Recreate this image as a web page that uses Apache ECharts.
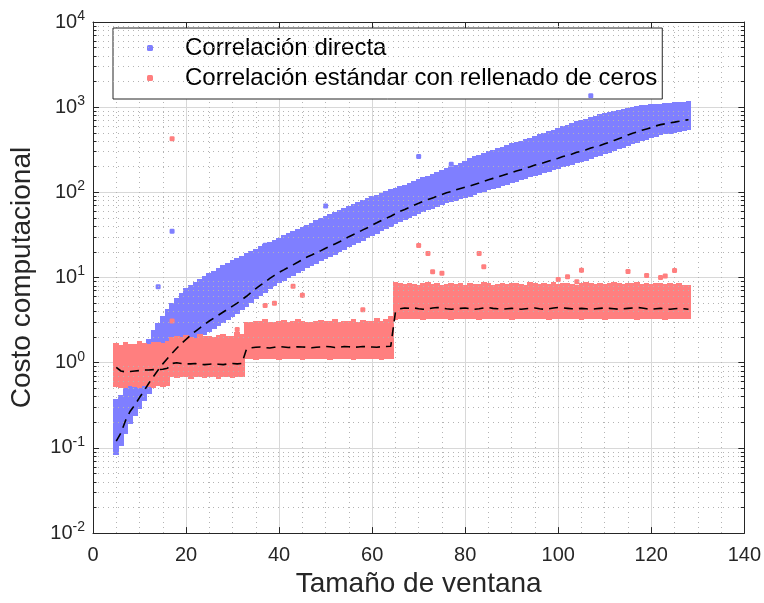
<!DOCTYPE html>
<html><head><meta charset="utf-8">
<script src="https://cdn.jsdelivr.net/npm/echarts@6/dist/echarts.min.js"></script>
<style>html,body{margin:0;padding:0;background:#fff}#c{width:764px;height:603px}</style>
</head><body><div id="c"></div>
<script>
// ---------- data ----------
const windowStart = 5, windowEnd = 128;   // window sizes 5..128
const seriesNames = ['Correlación directa', 'Correlación estándar con rellenado de ceros'];
const xTicks = [0, 20, 40, 60, 80, 100, 120, 140];
const yTickExponents = [-2, -1, 0, 1, 2, 3, 4];

const blueMedian = [0.12,0.15,0.21,0.27,0.32,0.39,0.47,0.575,0.69,0.82,0.97,1.12,1.29,1.48,1.68,1.88,2.11,2.34,2.57,2.82,3.09,3.35,3.63,3.94,4.27,4.62,5.0,5.5,6.03,6.68,7.41,8.13,8.91,9.77,10.6,11.5,12.3,13.2,14.1,15.1,16.2,17.4,18.4,19.5,20.7,22.1,23.4,24.8,26.3,28.2,30.2,32.0,33.9,36.3,38.5,41.2,43.9,46.8,49.5,52.5,56.2,60.0,63.1,66.8,70.8,74.5,78.7,82.2,86.1,90.2,94.4,98.9,102,107,111,115,119,124,129,135,141,146,151,158,164,170,178,184,192,200,209,216,224,234,243,251,263,272,282,295,305,316,331,343,355,372,389,407,427,447,473,495,513,537,556,575,603,624,638,653,668,684,700,713];
const blueLow = [0.085,0.11,0.15,0.2,0.25,0.3,0.37,0.45,0.53,0.63,0.75,0.87,1.0,1.15,1.3,1.46,1.64,1.82,2.0,2.2,2.4,2.6,2.83,3.07,3.33,3.6,3.9,4.3,4.7,5.2,5.8,6.3,6.9,7.6,8.3,9.0,9.6,10.3,11.0,11.8,12.6,13.5,14.3,15.2,16.1,17.2,18.2,19.3,20.5,22.0,23.5,25.0,26.4,28.3,30.0,32.1,34.2,36.5,38.6,41.0,43.8,46.8,49.2,52.1,55.2,58.1,61.4,64.1,67.2,70.4,73.6,77.1,79.6,83.5,86.6,89.7,92.8,96.7,101,105,110,114,118,123,128,133,139,144,150,156,163,168,175,183,190,196,205,212,220,230,238,246,258,268,277,290,303,317,333,349,369,386,400,419,434,449,470,487,498,509,521,534,546,556];
const blueHigh = [0.36,0.40,0.5,0.65,0.8,1.1,1.4,1.8,2.3,2.8,3.4,4.1,4.8,5.6,6.4,7.2,7.9,8.6,9.3,10.0,10.8,11.6,12.4,13.3,14.3,15.3,16.3,17.4,18.5,19.7,21.0,22.3,23.6,25.0,26.5,28,30,32,34,36,38,40,42.5,45,48,51,54,57,60,63,67,71,74,78,82,86,90,95,99,104,108,113,118,124,130,137,144,151,158,166,175,184,193,202,212,222,240,255,265,278,290,303,316,330,345,360,375,390,405,420,440,460,480,500,525,550,575,600,630,655,680,705,735,760,790,820,845,870,895,920,945,970,995,1010,1025,1040,1050,1060,1070,1080,1090,1100,1110,1120];

const redMedian = [0.88,0.80,0.78,0.79,0.80,0.81,0.82,0.82,0.83,0.83,0.84,0.86,
  0.98,1.0,0.98,0.97,0.97,0.98,0.96,0.95,0.96,0.97,0.96,0.95,0.97,0.98,0.97,0.98,
  1.45,1.5,1.52,1.53,1.5,1.49,1.52,1.55,1.53,1.51,1.52,1.54,1.53,1.52,1.5,1.52,1.53,1.55,1.54,1.51,1.52,1.55,1.54,1.52,1.53,1.55,1.54,1.53,1.52,1.54,1.55,1.56,
  3.9,4.3,4.4,4.35,4.4,4.3,4.25,4.3,4.4,4.45,4.4,4.3,4.25,4.3,4.35,4.4,4.3,4.25,4.3,4.4,4.45,4.35,4.3,4.25,4.3,4.35,4.3,4.25,4.3,4.35,4.4,4.3,
  4.25,4.3,4.4,4.45,4.4,4.35,4.3,4.3,4.35,4.3,4.25,4.3,4.35,4.4,4.35,4.3,4.25,4.3,4.35,4.4,4.45,4.4,4.3,4.25,4.3,4.35,4.3,4.25,4.3,4.35,4.3,4.25];
const redLow = [0.54,0.52,0.53,0.55,0.54,0.53,0.55,0.54,0.53,0.55,0.54,0.56,
  0.70,0.69,0.71,0.70,0.68,0.70,0.71,0.69,0.70,0.70,0.68,0.71,0.70,0.69,0.70,0.70,
  1.14,1.15,1.13,1.15,1.16,1.14,1.15,1.13,1.15,1.16,1.14,1.15,1.13,1.15,1.16,1.14,1.15,1.14,1.13,1.15,1.16,1.14,1.15,1.13,1.15,1.14,1.16,1.15,1.14,1.13,1.15,1.15,
  3.35,3.4,3.38,3.36,3.4,3.37,3.35,3.39,3.41,3.36,3.38,3.4,3.35,3.37,3.39,3.4,3.36,3.38,3.35,3.4,3.37,3.39,3.36,3.38,3.4,3.35,3.37,3.39,3.41,3.36,3.38,3.4,
  3.37,3.35,3.39,3.4,3.36,3.38,3.41,3.37,3.35,3.39,3.4,3.36,3.38,3.35,3.37,3.4,3.39,3.36,3.38,3.41,3.35,3.37,3.39,3.4,3.36,3.38,3.35,3.37,3.4,3.39,3.36,3.38];
const redHigh = [1.62,1.55,1.7,1.6,1.58,1.75,1.65,1.6,1.7,1.68,1.62,1.75,
  1.95,2.0,1.9,2.05,1.95,1.88,2.1,1.96,2.0,1.92,2.05,2.1,1.98,2.0,2.2,2.1,
  2.9,2.85,3.0,2.95,3.1,2.9,2.85,3.0,3.05,2.9,2.95,3.1,3.0,2.9,2.85,3.0,3.05,2.95,3.0,3.1,2.9,2.95,3.0,3.1,2.9,3.05,2.95,3.0,3.2,3.0,3.1,3.4,
  8.6,8.2,8.0,8.4,8.1,7.9,8.3,8.5,8.0,8.2,7.8,8.1,8.4,8.0,8.2,7.9,8.3,8.1,8.0,8.5,8.2,7.9,8.1,8.3,8.0,8.2,8.4,8.1,7.9,8.6,8.2,8.0,
  8.3,8.1,8.5,8.0,8.2,8.4,8.1,7.9,8.3,8.5,8.2,8.0,8.4,8.1,8.3,8.6,8.2,8.0,8.4,8.2,8.5,8.1,8.3,8.0,8.2,8.4,8.1,8.3,8.0,8.2,7.9,7.8];

const blueOutliers = [[14,7.8],[17,35],[19,5.4],[25,9.7],[37,24],[50,69],[70,263],[77,214],[107,1360]];
const redOutliers = [[17,425],[70,23.8],[72,19.2],[73,11.7],[75,11.2],[83,19.2],[84,13.4],[100,9.5],[102,10.2],[104,8.9],[105,12.2],[115,11.8],[119,10.6],[122,10],[123,10.4],[125,12.1],[43,7.9],[45,6.2],[37,4.7],[39,5.0],[58,4.2],[31,2.45],[17,3.1]];

// ---------- build ----------
const windows = [];
for (let w = windowStart; w <= windowEnd; w++) windows.push(w);
const blueBand = windows.map((w, i) => [w, blueLow[i], blueHigh[i]]);
const redBand = windows.map((w, i) => [w, redLow[i], redHigh[i]]);
const blueLine = windows.map((w, i) => [w, blueMedian[i]]);
const redLine = windows.map((w, i) => [w, redMedian[i]]);

const BLUE = '#7f7fff', RED = '#ff7f7f', INK = '#262626';
const FONT = '"Liberation Sans", Arial, Helvetica, sans-serif';

const minorVals = [];
for (let e = -2; e < 4; e++) for (let k = 2; k <= 9; k++) minorVals.push(k * Math.pow(10, e));
const minorGrid = minorVals.map(v => ({ yAxis: v }));
const minorTicks = [];
minorVals.forEach(v => {
  minorTicks.push([{ coord: [0, v] }, { coord: [0.75, v] }]);
  minorTicks.push([{ coord: [139.25, v] }, { coord: [140, v] }]);
});

function bandRender(color) {
  return function (params, api) {
    const x = api.value(0), lo = api.value(1), hi = api.value(2);
    const p1 = api.coord([x - 0.5, hi]);
    const p2 = api.coord([x + 0.5, lo]);
    const x0 = Math.floor(p1[0]), x1 = Math.ceil(p2[0]);
    const y0 = Math.round(p1[1] - 1.5), y1 = Math.round(p2[1] + 1.5);
    return { type: 'rect', shape: { x: x0, y: y0, width: x1 - x0, height: y1 - y0 },
      style: { fill: color, stroke: null, lineWidth: 0, opacity: 1 } };
  };
}

const chart = echarts.init(document.getElementById('c'), null, { renderer: 'canvas' });
const axisCommon = {
  axisLine: { show: true, onZero: false, lineStyle: { color: INK, width: 1 } },
  axisTick: { show: true, inside: true, length: 6, lineStyle: { color: INK } },
};
chart.setOption({
  animation: false,
  backgroundColor: '#fff',
  textStyle: { fontFamily: FONT },
  grid: { left: 93, right: 19, top: 22, bottom: 69, containLabel: false },
  legend: {
    left: 113, top: 28, orient: 'vertical', selectedMode: false,
    padding: [8, 5, 9, 34], itemGap: 6, itemWidth: 6, itemHeight: 6,
    backgroundColor: '#fff', borderColor: INK, borderWidth: 1,
    data: [
      { name: seriesNames[0], icon: 'roundRect', itemStyle: { color: BLUE } },
      { name: seriesNames[1], icon: 'roundRect', itemStyle: { color: RED } }
    ],
    formatter: n => '{t|' + n + '}',
    textStyle: { rich: { t: { fontSize: 24, lineHeight: 26, padding: [0, 0, 0, 27], color: '#000', fontFamily: FONT } } }
  },
  xAxis: [
    Object.assign({
      type: 'value', min: 0, max: 140, interval: 20, position: 'bottom',
      name: 'Tamaño de ventana', nameLocation: 'middle', nameGap: 29,
      nameTextStyle: { fontSize: 28, color: INK, fontFamily: FONT },
      axisLabel: { fontSize: 20, color: INK, margin: 12, fontFamily: FONT },
      splitLine: { show: true, lineStyle: { color: '#d8d8d8', width: 1 } },
      minorTick: { show: false, splitNumber: 4 },
      minorSplitLine: { show: true, lineStyle: { color: '#b4b4b4', width: 1, type: [1, 4] } }
    }, axisCommon),
    Object.assign({
      type: 'value', min: 0, max: 140, interval: 20, position: 'top',
      axisLabel: { show: false }, splitLine: { show: false }
    }, axisCommon)
  ],
  yAxis: [
    Object.assign({
      type: 'log', logBase: 10, min: 0.01, max: 10000, splitNumber: 6, position: 'left',
      name: 'Costo computacional', nameLocation: 'middle', nameGap: 57,
      nameTextStyle: { fontSize: 28, color: INK, fontFamily: FONT },
      axisLabel: {
        margin: 8, color: INK, fontFamily: FONT,
        formatter: v => '{b|10}{s|' + Math.round(Math.log10(v)) + '}',
        rich: { b: { fontSize: 20, color: INK, fontFamily: FONT }, s: { fontSize: 14, color: INK, fontFamily: FONT, padding: [0, 0, 12, 0] } }
      },
      splitLine: { show: true, lineStyle: { color: '#d8d8d8', width: 1 } }
    }, axisCommon),
    Object.assign({
      type: 'log', logBase: 10, min: 0.01, max: 10000, splitNumber: 6, position: 'right',
      axisLabel: { show: false }, splitLine: { show: false }
    }, axisCommon)
  ],
  series: [
    {
      type: 'line', name: 'grid', data: [], z: 1, silent: true,
      markLine: { silent: true, symbol: ['none', 'none'], label: { show: false }, animation: false,
        lineStyle: { color: '#b4b4b4', width: 1, type: [1, 4] }, emphasis: { disabled: true },
        data: minorGrid }
    },
    {
      type: 'line', name: 'ticks', data: [], z: 6, silent: true,
      markLine: { silent: true, symbol: ['none', 'none'], label: { show: false }, animation: false,
        lineStyle: { color: INK, width: 1, type: 'solid' }, emphasis: { disabled: true },
        data: minorTicks }
    },
    { type: 'custom', name: seriesNames[0], data: blueBand, renderItem: bandRender(BLUE), z: 2, silent: true,
      itemStyle: { color: BLUE }, encode: { x: 0, y: [1, 2] } },
    { type: 'custom', name: seriesNames[1], data: redBand, renderItem: bandRender(RED), z: 3, silent: true,
      itemStyle: { color: RED }, encode: { x: 0, y: [1, 2] } },
    { type: 'scatter', name: seriesNames[0], data: blueOutliers, symbol: 'roundRect', symbolSize: 5,
      itemStyle: { color: BLUE, opacity: 1 }, z: 4, silent: true },
    { type: 'scatter', name: seriesNames[1], data: redOutliers, symbol: 'roundRect', symbolSize: 5,
      itemStyle: { color: RED, opacity: 1 }, z: 4, silent: true },
    { type: 'line', name: 'blueMedian', data: blueLine, showSymbol: false, z: 5, silent: true,
      lineStyle: { color: '#000', width: 1.6, type: [9, 6] } },
    { type: 'line', name: 'redMedian', data: redLine, showSymbol: false, z: 5, silent: true,
      lineStyle: { color: '#000', width: 1.6, type: [9, 6] } }
  ]
});
</script></body></html>
